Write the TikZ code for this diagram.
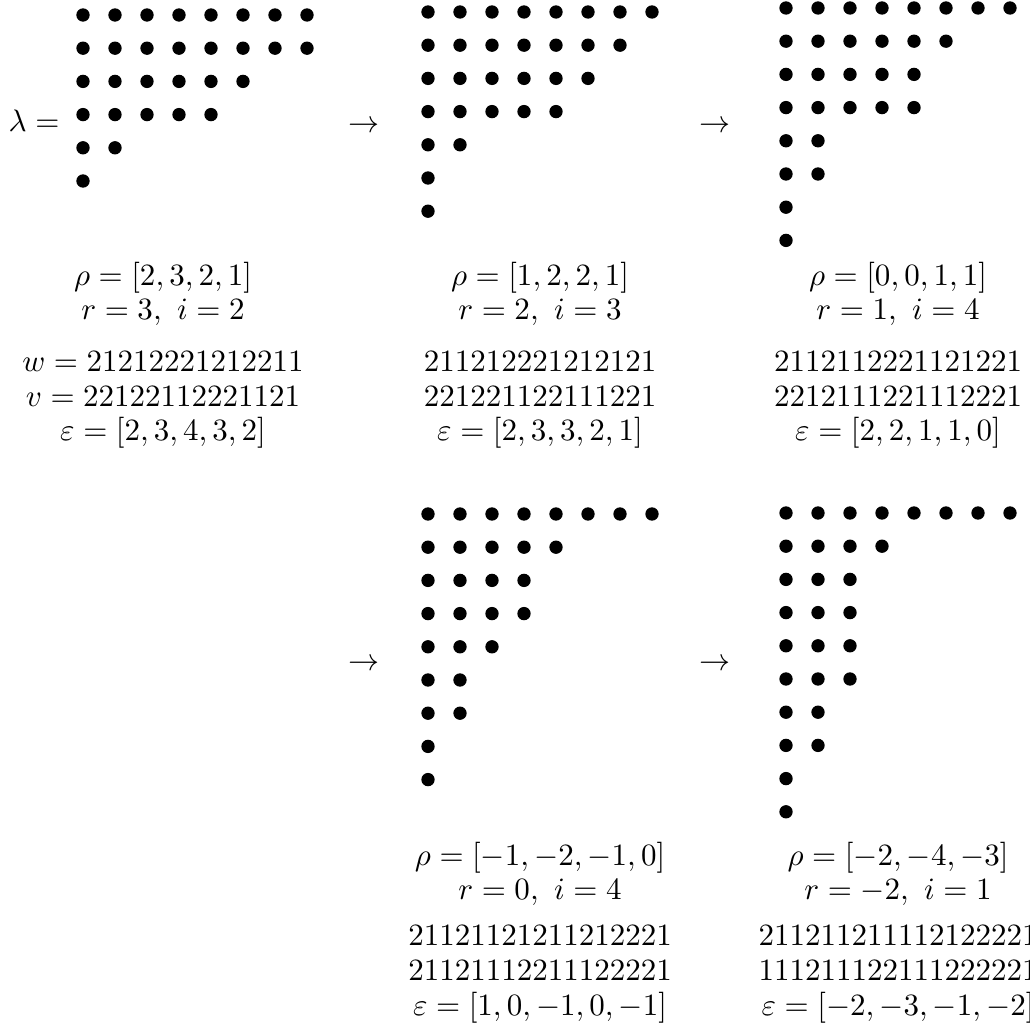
\documentclass[tikz,border=0pt]{standalone}
\usepackage{amsmath,amssymb}
\usetikzlibrary{positioning}

\tikzset{
  lbl/.style={anchor=base, inner sep=0pt},
}
\newcommand{\dotdiagram}[3]{%
  \foreach \len [count=\rw from 0] in {#3} {
    \foreach \cl in {1,...,\len} {
      \fill (#1+32*\cl-32, #2+33.2*\rw) circle (2.15pt);
    }
  }
}

\begin{document}
\begin{tikzpicture}[x=0.3226pt, y=-0.3226pt]
 \useasboundingbox (0,0) rectangle (1029,1034);
 \node[lbl, anchor=base west] (lam) at (8,132) {$\lambda =$};
 \dotdiagram{83}{15}{8,8,6,5,2,1}
 \dotdiagram{428}{12}{8,7,6,5,2,1,1}
 \dotdiagram{786}{8}{8,6,5,5,2,2,1,1}
 \dotdiagram{428}{514}{8,5,4,4,3,2,2,1,1}
 \dotdiagram{786}{513}{8,4,3,3,3,3,2,2,1,1}
 \node[lbl] (arr1) at (364,133) {$\rightarrow$};
 \node[lbl] (arr2) at (715,133) {$\rightarrow$};
 \node[lbl] (arr3) at (364,670) {$\rightarrow$};
 \node[lbl] (arr4) at (715,670) {$\rightarrow$};
 \node[lbl] (rho1) at (163,286) {$\rho = [2,3,2,1]$};
 \node[lbl] (ri1) at (163,320) {$r = 3,\ i = 2$};
 \node[lbl] (w1) at (163,372) {$w = 21212221212211$};
 \node[lbl] (v1) at (163,407) {$v = 22122112221121$};
 \node[lbl] (eps1) at (163,441) {$\varepsilon = [2,3,4,3,2]$};
 \node[lbl] (rho2) at (540,286) {$\rho = [1,2,2,1]$};
 \node[lbl] (ri2) at (540,320) {$r = 2,\ i = 3$};
 \node[lbl] (w2) at (540,372) {$211212221212121$};
 \node[lbl] (v2) at (540,407) {$221221122111221$};
 \node[lbl] (eps2) at (540,441) {$\varepsilon = [2,3,3,2,1]$};
 \node[lbl] (rho3) at (898,286) {$\rho = [0,0,1,1]$};
 \node[lbl] (ri3) at (898,320) {$r = 1,\ i = 4$};
 \node[lbl] (w3) at (898,372) {$2112112221121221$};
 \node[lbl] (v3) at (898,407) {$2212111221112221$};
 \node[lbl] (eps3) at (898,441) {$\varepsilon = [2,2,1,1,0]$};
 \node[lbl] (rho4) at (540,865) {$\rho = [-1,-2,-1,0]$};
 \node[lbl] (ri4) at (540,899) {$r = 0,\ i = 4$};
 \node[lbl] (w4) at (540,945) {$21121121211212221$};
 \node[lbl] (v4) at (540,980) {$21121112211122221$};
 \node[lbl] (eps4) at (540,1015) {$\varepsilon = [1,0,-1,0,-1]$};
 \node[lbl] (rho5) at (898,865) {$\rho = [-2,-4,-3]$};
 \node[lbl] (ri5) at (898,899) {$r = -2,\ i = 1$};
 \node[lbl] (w5) at (898,945) {$211211211112122221$};
 \node[lbl] (v5) at (898,980) {$111211122111222221$};
 \node[lbl] (eps5) at (898,1015) {$\varepsilon = [-2,-3,-1,-2]$};
\end{tikzpicture}
\end{document}
